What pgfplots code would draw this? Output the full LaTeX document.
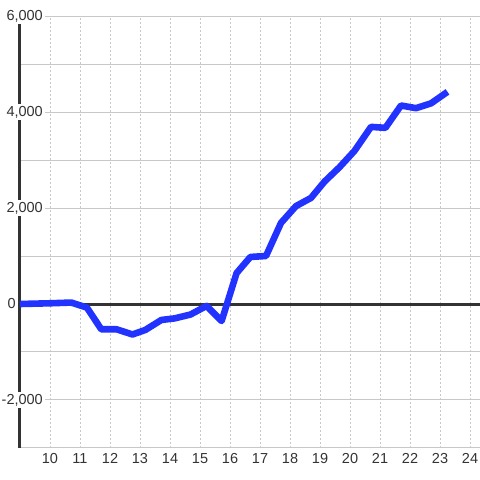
\documentclass[border=0pt]{standalone}
\usepackage{pgfplots}
\pgfplotsset{compat=1.18}
\usepackage{fontspec}
\setmainfont{Liberation Sans}
\definecolor{lineblue}{RGB}{34,51,255}
\definecolor{dark}{RGB}{51,51,51}
\definecolor{gridgray}{RGB}{200,200,200}
\begin{document}
\begin{tikzpicture}[x=1pt,y=1pt]
\useasboundingbox (0,0) rectangle (480,480);
\begin{axis}[
  scale only axis, width=460pt, height=432pt,
  at={(20pt,32pt)}, anchor=south west,
  xmin=9, xmax=24.333, ymin=-3000, ymax=6000,
  axis lines=left, axis line style={-},
  x axis line style={draw=none},
  y axis line style={dark, line width=3pt},
  major tick length=0pt, minor tick length=0pt,
  xtick={10,...,24},
  ytick={-2000,2000,4000,6000},
  minor ytick={-3000,-1000,0,1000,3000,5000},
  xmajorgrids, ymajorgrids, yminorgrids,
  x grid style={gridgray, dash pattern=on 2pt off 2pt, line width=0.8pt},
  y grid style={gridgray, line width=1pt},
  minor y grid style={gridgray, line width=1pt},
  extra y ticks={0},
  extra y tick style={grid=none, yticklabel style={xshift=-27pt, fill=none}},
  /pgf/number format/.cd, 1000 sep={,}, assume math mode=true,
  /pgfplots/.cd,
  tick label style={font=\fontsize{14.5}{16}\selectfont, text=dark},
  yticklabel style={anchor=east, xshift=25.5pt, fill=white, inner sep=2.5pt},
  xticklabel style={yshift=-2pt},
  clip=false,
]
\addplot[dark, line width=3pt] coordinates {(9,0) (24.333,0)};
\addplot[lineblue, line width=6.6pt, line join=round] coordinates {
(9.00,0) (10.00,15) (10.71,30) (11.23,-75) (11.71,-527) (12.22,-527)
(12.75,-635) (13.18,-540) (13.71,-333) (14.15,-300) (14.68,-220)
(15.22,-40) (15.72,-355) (16.22,645) (16.68,980) (17.20,1000)
(17.70,1690) (18.20,2040) (18.70,2210) (19.15,2550) (19.65,2850)
(20.15,3190) (20.70,3690) (21.18,3670) (21.70,4135) (22.20,4080)
(22.70,4180) (23.25,4420)
};
\end{axis}
\end{tikzpicture}
\end{document}
